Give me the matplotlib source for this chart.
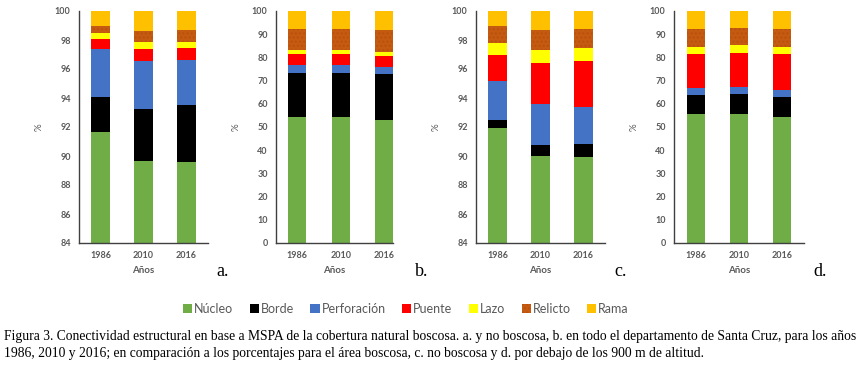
import numpy as np
import matplotlib.pyplot as plt
from matplotlib.patches import Patch

years = ['1986', '2010', '2016']
classes = ['Núcleo', 'Borde', 'Perforación', 'Puente', 'Lazo', 'Relicto', 'Rama']
colors = ['#70AD47', '#000000', '#4472C4', '#FF0000', '#FFFF00', '#C55A11', '#FFC000']

# percentages per class (rows) and year (columns)
panel_a = [
    [91.67, 89.66, 89.61],
    [2.43, 3.55, 3.92],
    [3.26, 3.35, 3.12],
    [0.71, 0.80, 0.78],
    [0.44, 0.48, 0.41],
    [0.46, 0.78, 0.83],
    [1.03, 1.38, 1.33],
]
panel_b = [
    [54.2, 54.5, 53.0],
    [18.9, 18.6, 20.0],
    [3.5, 3.6, 2.9],
    [5.0, 4.6, 4.8],
    [1.4, 1.7, 1.8],
    [9.2, 9.2, 9.5],
    [7.8, 7.8, 8.0],
]
panel_c = [
    [91.95, 89.98, 89.91],
    [0.50, 0.78, 0.94],
    [2.69, 2.80, 2.50],
    [1.83, 2.82, 3.21],
    [0.83, 0.91, 0.87],
    [1.19, 1.38, 1.31],
    [1.01, 1.33, 1.26],
]
panel_d = [
    [55.7, 55.8, 54.5],
    [8.1, 8.3, 8.5],
    [3.2, 3.3, 3.0],
    [14.6, 14.7, 15.5],
    [3.0, 3.1, 3.0],
    [7.5, 7.3, 7.6],
    [7.9, 7.5, 7.9],
]

caption = ("Figura 3. Conectividad estructural en base a MSPA de la cobertura natural boscosa. a. y no boscosa, "
           "b. en todo el departamento de Santa Cruz, para los años\n"
           "1986, 2010 y 2016; en comparación a los porcentajes para el área boscosa, c. no boscosa y d. "
           "por debajo de los 900 m de altitud.")

W, H = 864, 367
GRAY = '#595959'
SANS = ['Lato', 'DejaVu Sans']
RELICTO_DOTS = '#B9520E'

fig = plt.figure(figsize=(W / 100, H / 100), dpi=100)


def px_axes(left, right, top, bottom):
    return fig.add_axes([left / W, (H - bottom) / H, (right - left) / W, (bottom - top) / H])


def draw_panel(ax, data, ylim, yticks, xlim, letter, letter_x):
    x = np.arange(len(years))
    bottom = np.zeros(len(years))
    for vals, c, name in zip(data, colors, classes):
        vals = np.array(vals)
        kw = {}
        if name == 'Relicto':
            kw = dict(hatch='....', edgecolor=RELICTO_DOTS, linewidth=0)
        ax.bar(x, vals, 0.42, bottom=bottom, color=c, **kw)
        bottom += vals
    ax.set_ylim(*ylim)
    ax.set_xlim(*xlim)
    ax.set_yticks(yticks)
    ax.set_xticks(x)
    ax.set_xticklabels(years)
    for s in ['top', 'right']:
        ax.spines[s].set_visible(False)
    for s in ['left', 'bottom']:
        ax.spines[s].set_color('#404040')
        ax.spines[s].set_linewidth(1.0)
    ax.tick_params(length=0, labelsize=6.5, labelcolor=GRAY, pad=6)
    for t in ax.get_xticklabels() + ax.get_yticklabels():
        t.set_family(SANS)
        t.set_fontweight('bold')
    ax.set_ylabel('%', fontsize=7, color=GRAY, family=SANS, labelpad=8)
    ax.set_xlabel('Años', fontsize=7, color=GRAY, family=SANS, labelpad=4, fontweight='bold')
    fig.text(letter_x / W, 1 - 272 / H, letter, fontsize=13, family='Liberation Serif',
             ha='center', va='center')


ax_a = px_axes(79, 208, 11, 243)
draw_panel(ax_a, panel_a, (84, 100), np.arange(84, 101, 2), (-0.5, 2.5), 'a.', 223)
ax_b = px_axes(276, 393, 11, 243)
draw_panel(ax_b, panel_b, (0, 100), np.arange(0, 101, 10), (-0.49, 2.2), 'b.', 422)
ax_c = px_axes(476, 605, 11, 243)
draw_panel(ax_c, panel_c, (84, 100), np.arange(84, 101, 2), (-0.5, 2.5), 'c.', 621)
ax_d = px_axes(674, 804, 11, 243)
draw_panel(ax_d, panel_d, (0, 100), np.arange(0, 101, 10), (-0.5, 2.5), 'd.', 820)

handles = []
for c, name in zip(colors, classes):
    if name == 'Relicto':
        handles.append(Patch(facecolor=c, edgecolor=RELICTO_DOTS, hatch='....', linewidth=0, label=name))
    else:
        handles.append(Patch(facecolor=c, label=name))
fig.legend(handles=handles, loc='center', bbox_to_anchor=(406 / W, 1 - 309 / H), ncol=7,
           frameon=False, handlelength=0.75, handleheight=0.75, handletextpad=0.15,
           columnspacing=1.3, prop={'family': SANS, 'size': 9}, labelcolor=GRAY)

fig.text(4 / W, 1 - 345 / H, caption, fontsize=9.8, family='Liberation Serif',
         ha='left', va='center', linespacing=1.4)

fig.savefig('out.png', dpi=100)
